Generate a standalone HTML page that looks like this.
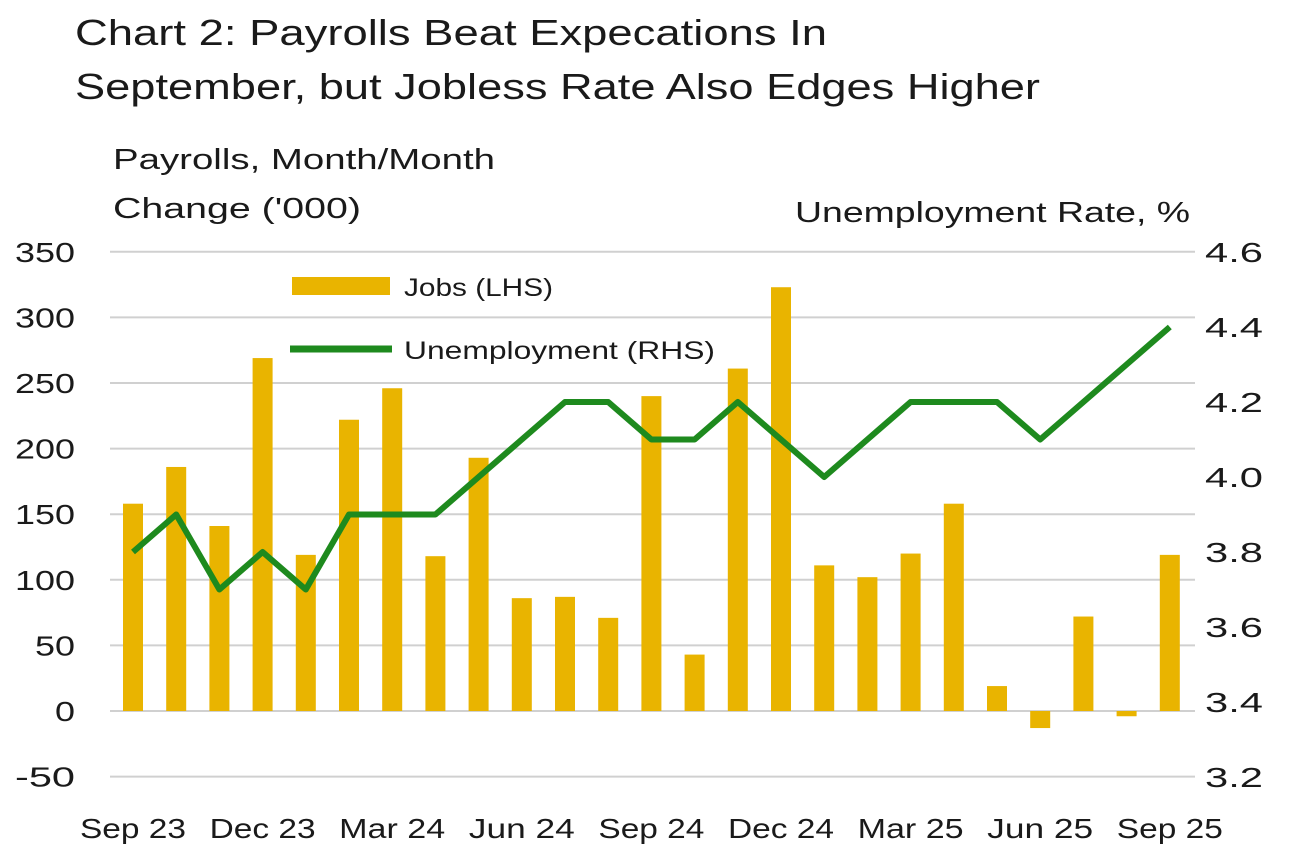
<!DOCTYPE html>
<html><head><meta charset="utf-8">
<style>
html,body{margin:0;padding:0;background:#fff;}
body{width:1297px;height:859px;overflow:hidden;font-family:"Liberation Sans",sans-serif;}
</style></head>
<body>
<svg id="c" width="1297" height="859" xmlns="http://www.w3.org/2000/svg" font-family="Liberation Sans, sans-serif" fill="#1a1a1a">
<text x="75" y="45" font-size="36" textLength="752" lengthAdjust="spacingAndGlyphs">Chart 2: Payrolls Beat Expecations In</text>
<text x="75" y="99" font-size="36" textLength="965" lengthAdjust="spacingAndGlyphs">September, but Jobless Rate Also Edges Higher</text>
<text x="113" y="169" font-size="29" textLength="382" lengthAdjust="spacingAndGlyphs">Payrolls, Month/Month</text>
<text x="113" y="218" font-size="29" textLength="248" lengthAdjust="spacingAndGlyphs">Change ('000)</text>
<text x="795" y="222" font-size="29" textLength="395" lengthAdjust="spacingAndGlyphs">Unemployment Rate, %</text>
<g id="g"></g>
<rect x="292" y="277" width="98" height="18" fill="#E9B400"/>
<text x="404" y="296" font-size="25" textLength="149" lengthAdjust="spacingAndGlyphs">Jobs (LHS)</text>
<line x1="290" y1="349" x2="392" y2="349" stroke="#1E8A1E" stroke-width="7"/>
<text x="404" y="359" font-size="25" textLength="311" lengthAdjust="spacingAndGlyphs">Unemployment (RHS)</text>
</svg>
<script>
var g=document.getElementById('g'),s='';
for(var v=-50;v<=350;v+=50){var y=711-v*1.312;
s+='<line x1="110" x2="1195" y1="'+y+'" y2="'+y+'" stroke="#d0d0d0" stroke-width="2"/>';
var w=(String(v).length)*20;
s+='<text x="75" y="'+(y+10)+'" font-size="28" text-anchor="end" textLength="'+w+'" lengthAdjust="spacingAndGlyphs">'+v+'</text>';}
for(var i=0;i<8;i++){var r=3.2+i*0.2;var y=777-(r-3.2)*375;
s+='<text x="1205" y="'+(y+10)+'" font-size="28" textLength="58" lengthAdjust="spacingAndGlyphs">'+r.toFixed(1)+'</text>';}
var b=[158,186,141,269,119,222,246,118,193,86,87,71,240,43,261,323,111,102,120,158,19,-13,72,-4,119];
var u=[3.8,3.9,3.7,3.8,3.7,3.9,3.9,3.9,4.0,4.1,4.2,4.2,4.1,4.1,4.2,4.1,4.0,4.1,4.2,4.2,4.2,4.1,4.2,4.3,4.4];
var pts=[];
for(var i=0;i<25;i++){var x=133+i*43.2;var v=b[i];var y0=711,y1=711-v*1.312;
s+='<rect x="'+(x-10)+'" y="'+Math.min(y0,y1)+'" width="20" height="'+Math.abs(y1-y0)+'" fill="#E9B400"/>';
pts.push(x+','+(777-(u[i]-3.2)*375));}
s+='<polyline points="'+pts.join(' ')+'" fill="none" stroke="#1E8A1E" stroke-width="6" stroke-linejoin="round"/>';
var L=['Sep 23','Dec 23','Mar 24','Jun 24','Sep 24','Dec 24','Mar 25','Jun 25','Sep 25'];
for(var i=0;i<9;i++){s+='<text x="'+(133+i*3*43.2)+'" y="838" font-size="28" text-anchor="middle" textLength="106" lengthAdjust="spacingAndGlyphs">'+L[i]+'</text>';}
g.innerHTML=s;
</script>
</body></html>
